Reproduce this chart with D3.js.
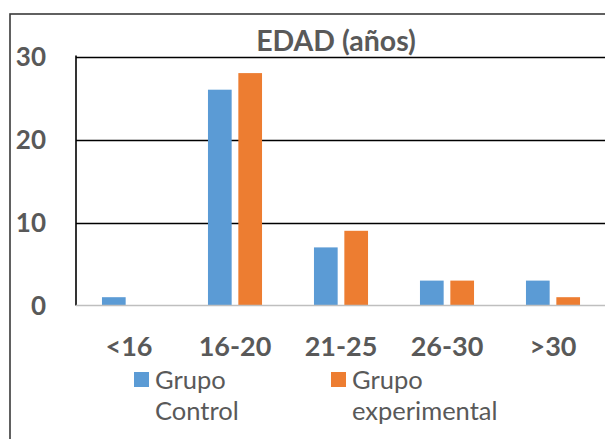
<!DOCTYPE html>
<html>
<head>
<meta charset="utf-8">
<script src="https://cdn.jsdelivr.net/npm/d3@7"></script>
<style>
  html, body { margin: 0; padding: 0; background: #fff; }
  svg { display: block; font-family: Lato, "Open Sans", sans-serif; }
</style>
</head>
<body>
<svg id="chart" width="605" height="439"></svg>
<script>
// Age groups and counts per group
const categories = ["<16", "16-20", "21-25", "26-30", ">30"];
const seriesNames = ["Grupo Control", "Grupo experimental"];
const controlValues = [1, 26, 7, 3, 3];
const experimentalValues = [0, 28, 9, 3, 1];
const yTicks = [0, 10, 20, 30];
const legendLines = [["Grupo", "Control"], ["Grupo", "experimental"]];
const colors = ["#5B9BD5", "#ED7D31"];
const textColor = "#595959";

const svg = d3.select("#chart");

const plot = { left: 76, right: 606, top: 56.5, bottom: 305.5 };

const x0 = d3.scaleBand().domain(categories).range([plot.left, plot.right])
  .paddingInner(0.49).paddingOuter(0.245);
const x1 = d3.scaleBand().domain(seriesNames).range([0, x0.bandwidth()])
  .paddingInner(0.22).paddingOuter(0);
const y = d3.scaleLinear().domain([0, 30]).range([plot.bottom, plot.top]);

// outer chart frame
svg.append("rect")
  .attr("x", 10).attr("y", 14)
  .attr("width", 640).attr("height", 460)
  .attr("fill", "none").attr("stroke", "#3a3a3a").attr("stroke-width", 1.6);

// title
svg.append("text")
  .attr("x", 336).attr("y", 50.5)
  .attr("text-anchor", "middle")
  .attr("font-weight", 700).attr("font-size", 28.5)
  .attr("fill", textColor)
  .text("EDAD (años)");

// horizontal gridlines (above zero)
svg.append("g")
  .selectAll("line")
  .data(yTicks.filter(d => d > 0))
  .join("line")
  .attr("x1", plot.left).attr("x2", 605)
  .attr("y1", d => Math.round(y(d)) + 0.5).attr("y2", d => Math.round(y(d)) + 0.5)
  .attr("stroke", "#000").attr("stroke-width", 1.6);

// left plot edge
svg.append("line")
  .attr("x1", plot.left).attr("x2", plot.left)
  .attr("y1", plot.top - 1).attr("y2", plot.bottom)
  .attr("stroke", "#000").attr("stroke-width", 1.6);

// bars
const data = categories.map((c, i) => ({ c, vals: [controlValues[i], experimentalValues[i]] }));
svg.append("g")
  .selectAll("g")
  .data(data)
  .join("g")
  .attr("transform", d => `translate(${x0(d.c)},0)`)
  .selectAll("rect")
  .data(d => d.vals.map((v, k) => ({ v, k })))
  .join("rect")
  .attr("x", d => x1(seriesNames[d.k]))
  .attr("width", x1.bandwidth())
  .attr("y", d => y(d.v))
  .attr("height", d => y(0) - y(d.v))
  .attr("fill", d => colors[d.k]);

// zero baseline
svg.append("line")
  .attr("x1", plot.left).attr("x2", 605)
  .attr("y1", y(0)).attr("y2", y(0))
  .attr("stroke", "#bfbfbf").attr("stroke-width", 1.6);

// y axis labels
const yAxis = d3.axisLeft(y).tickValues(yTicks).tickSize(0).tickPadding(0);
const gy = svg.append("g").attr("transform", "translate(46,0)").call(yAxis);
gy.select(".domain").remove();
gy.selectAll("text")
  .attr("font-family", "Lato, sans-serif")
  .attr("font-weight", 700).attr("font-size", 26)
  .attr("fill", textColor).attr("dy", "0.36em");

// x axis labels
const xAxis = d3.axisBottom(x0).tickSize(0).tickPadding(0);
const gx = svg.append("g").attr("transform", "translate(0,356)").call(xAxis);
gx.select(".domain").remove();
gx.selectAll("text")
  .attr("font-family", "Lato, sans-serif")
  .attr("font-weight", 700).attr("font-size", 27)
  .attr("fill", textColor).attr("dy", 0);

// legend
const legendX = [134, 331];
const legend = svg.append("g")
  .selectAll("g")
  .data(seriesNames)
  .join("g")
  .attr("transform", (d, i) => `translate(${legendX[i]},0)`);
legend.append("rect")
  .attr("x", 0).attr("y", 372)
  .attr("width", 15).attr("height", 15)
  .attr("fill", (d, i) => colors[i]);
legend.append("text")
  .attr("x", 21).attr("y", 389)
  .attr("font-size", 25.5).attr("fill", textColor)
  .selectAll("tspan")
  .data((d, i) => legendLines[i])
  .join("tspan")
  .attr("x", 21)
  .attr("dy", (d, j) => j === 0 ? 0 : 31)
  .text(d => d);
</script>
</body>
</html>
